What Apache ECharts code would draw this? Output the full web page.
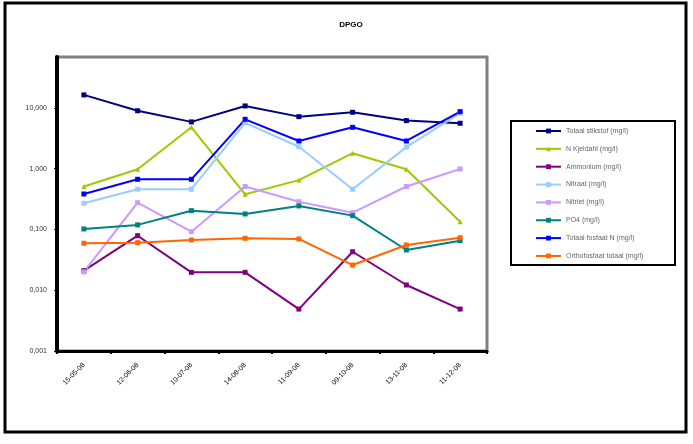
<!DOCTYPE html>
<html><head><meta charset="utf-8">
<script src="https://cdn.jsdelivr.net/npm/echarts@6/dist/echarts.min.js"></script>
<style>html,body{margin:0;padding:0;background:#fff}#c{width:693px;height:444px}</style>
</head><body><div id="c"></div>
<script>
const titleText = "DPGO";
const categories = ["15-05-08","12-06-08","10-07-08","14-08-08","11-09-08","09-10-08","13-11-08","11-12-08"];
const seriesNames = ["Totaal stikstof (mg/l)","N Kjeldahl (mg/l)","Ammonium (mg/l)","Nitraat (mg/l)","Nitriet (mg/l)","PO4 (mg/l)","Totaal fosfaat N (mg/l)","Orthofosfaat totaal (mg/l)"];
const totaalStikstof = [16.4, 9.0, 5.9, 10.8, 7.2, 8.5, 6.2, 5.6];
const nKjeldahl = [0.51, 0.98, 4.8, 0.38, 0.65, 1.8, 0.98, 0.134];
const ammonium = [0.021, 0.079, 0.0197, 0.0197, 0.0049, 0.043, 0.0122, 0.0049];
const nitraat = [0.27, 0.46, 0.46, 5.7, 2.3, 0.46, 2.27, 8.2];
const nitriet = [0.020, 0.276, 0.092, 0.51, 0.287, 0.189, 0.51, 0.99];
const po4 = [0.102, 0.119, 0.204, 0.18, 0.244, 0.169, 0.046, 0.0655];
const totaalFosfaat = [0.384, 0.67, 0.67, 6.5, 2.86, 4.8, 2.86, 8.7];
const orthofosfaat = [0.0593, 0.0607, 0.0671, 0.0716, 0.0698, 0.026, 0.0556, 0.0733];
const yTicks = [0.001, 0.01, 0.1, 1, 10];

const allValues = [totaalStikstof, nKjeldahl, ammonium, nitraat, nitriet, po4, totaalFosfaat, orthofosfaat];
const colors = ["#000080","#99CC00","#800080","#99CCFF","#CC99FF","#008080","#0000FF","#FF6600"];
const symbols = ["rect","triangle","rect","rect","rect","rect","rect","rect"];

const chart = echarts.init(document.getElementById('c'), null, {renderer:'canvas'});
const series = allValues.map((vals, i) => ({
  name: seriesNames[i], type: 'line', data: vals,
  symbol: symbols[i], symbolSize: 5, showSymbol: true,
  lineStyle: {width: 2, color: colors[i]},
  itemStyle: {color: colors[i]},
  animation: false
}));

chart.setOption({
  animation: false,
  title: {text: titleText, left: 346, top: 16, textAlign: 'center',
    textStyle: {fontSize: 8, fontWeight: 'bold', color: '#000', fontFamily: 'Arial, Liberation Sans'}},
  grid: {left: 57, top: 57, right: 206, bottom: 93, show: true, borderColor: '#808080', borderWidth: 3, backgroundColor: '#fff'},
  legend: {
    orient: 'vertical', left: 530, top: 121, itemWidth: 25, itemHeight: 6, itemGap: 7.85,
    data: seriesNames,
    textStyle: {fontSize: 7, color: '#666', lineHeight: 10, fontFamily: 'Arial, Liberation Sans'}
  },
  xAxis: {
    type: 'category', data: categories, boundaryGap: true,
    axisLine: {lineStyle: {color: '#000', width: 3}},
    axisTick: {show: true, length: 3, lineStyle: {color: '#000', width: 2}},
    axisLabel: {rotate: 45, fontSize: 7, color: '#000', margin: 13, interval: 0, fontFamily: 'Arial, Liberation Sans'},
    splitLine: {show: false}
  },
  yAxis: {
    type: 'log', logBase: 10, min: 0.001, max: 69,
    axisLine: {show: true, lineStyle: {color: '#000', width: 4}},
    axisTick: {show: true, length: 3, lineStyle: {color: '#000', width: 1}},
    axisLabel: {fontSize: 7, color: '#333', margin: 10, showMaxLabel: false,
      fontFamily: 'Arial, Liberation Sans',
      formatter: v => {
        const near = yTicks.find(t => Math.abs(Math.log10(v) - Math.log10(t)) < 1e-6);
        return near === undefined ? '' : near.toFixed(3).replace('.', ',');
      }},
    splitLine: {show: false}, minorTick: {show: false}
  },
  graphic: [
    {type: 'rect', shape: {x: 5, y: 3, width: 681, height: 429}, style: {fill: 'none', stroke: '#000', lineWidth: 3}, silent: true, z: 100},
    {type: 'rect', shape: {x: 511, y: 121, width: 164, height: 144}, style: {fill: 'none', stroke: '#000', lineWidth: 2}, silent: true, z: 100}
  ],
  series: series
});
</script></body></html>
